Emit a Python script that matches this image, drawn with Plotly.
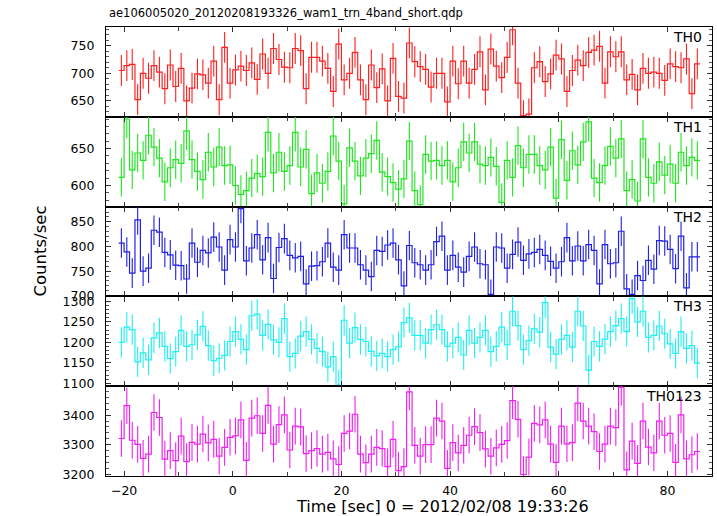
import numpy as np
import plotly.graph_objects as go
from plotly.subplots import make_subplots

# ---- data (1-s bins, centres from -20.5 to 85.5 s) ----
bin_start = -21.0
bin_width = 1.0

TH0 = [705, 714, 716, 652, 700, 691, 714, 702, 672, 715,
       676, 709, 650, 673, 699, 697, 682, 722, 652, 747,
       682, 706, 713, 705, 719, 689, 735, 700, 745, 725,
       711, 710, 745, 741, 672, 729, 729, 722, 709, 667,
       753, 688, 700, 738, 688, 652, 715, 674, 708, 650,
       727, 658, 655, 755, 721, 712, 707, 675, 700, 700,
       648, 722, 681, 722, 682, 707, 739, 670, 744, 713,
       692, 729, 779, 682, 623, 626, 710, 721, 685, 699,
       733, 726, 667, 705, 724, 714, 738, 742, 749, 682,
       739, 730, 739, 688, 698, 670, 709, 700, 702, 700,
       687, 717, 712, 710, 726, 663, 717]

TH1 = [611, 690, 621, 644, 634, 668, 652, 637, 605, 624,
       635, 630, 674, 635, 619, 608, 645, 625, 652, 627,
       628, 600, 588, 593, 610, 616, 612, 672, 617, 645,
       619, 627, 672, 625, 649, 589, 617, 603, 619, 667,
       633, 575, 651, 633, 613, 637, 643, 661, 618, 612,
       604, 595, 609, 660, 593, 574, 642, 633, 634, 627,
       634, 605, 624, 659, 644, 659, 629, 627, 638, 626,
       577, 634, 611, 654, 624, 642, 642, 627, 621, 652,
       583, 662, 607, 647, 628, 659, 686, 610, 604, 627,
       653, 637, 663, 593, 608, 579, 663, 611, 603, 632,
       614, 629, 603, 645, 627, 638, 634]

TH2 = [807, 789, 746, 854, 750, 756, 833, 829, 788, 783,
       762, 761, 734, 807, 768, 792, 787, 819, 799, 752,
       814, 799, 877, 771, 797, 824, 773, 818, 735, 798,
       816, 782, 777, 780, 724, 760, 761, 769, 807, 758,
       752, 824, 797, 797, 763, 752, 739, 792, 790, 803,
       807, 773, 720, 802, 767, 763, 752, 763, 810, 821,
       752, 782, 758, 748, 780, 799, 765, 763, 703, 799,
       797, 756, 784, 809, 772, 785, 788, 794, 782, 770,
       756, 769, 818, 771, 801, 771, 804, 792, 724, 804,
       765, 767, 831, 714, 703, 741, 731, 772, 754, 812,
       811, 794, 755, 821, 716, 779, 779]

TH3 = [1200, 1237, 1231, 1152, 1174, 1157, 1211, 1223, 1190, 1160,
       1177, 1229, 1190, 1194, 1218, 1239, 1192, 1155, 1161, 1168,
       1202, 1226, 1207, 1182, 1265, 1269, 1217, 1244, 1206, 1200,
       1258, 1165, 1173, 1215, 1226, 1207, 1185, 1177, 1140, 1165,
       1095, 1254, 1198, 1236, 1207, 1202, 1178, 1167, 1173, 1165,
       1182, 1189, 1248, 1260, 1217, 1217, 1198, 1231, 1243, 1231,
       1190, 1198, 1212, 1169, 1229, 1198, 1212, 1229, 1177, 1190,
       1237, 1194, 1276, 1241, 1182, 1204, 1233, 1225, 1297, 1188,
       1171, 1207, 1217, 1188, 1276, 1240, 1132, 1202, 1190, 1208,
       1226, 1241, 1258, 1226, 1307, 1250, 1276, 1212, 1217, 1240,
       1221, 1196, 1173, 1226, 1185, 1192, 1149]

TH0123 = [3321, 3432, 3315, 3301, 3254, 3268, 3409, 3392, 3251, 3280,
          3246, 3329, 3243, 3308, 3302, 3336, 3306, 3318, 3261, 3291,
          3325, 3330, 3384, 3247, 3390, 3398, 3338, 3433, 3302, 3368,
          3401, 3282, 3363, 3360, 3270, 3280, 3287, 3268, 3274, 3252,
          3233, 3338, 3346, 3403, 3268, 3239, 3268, 3291, 3287, 3226,
          3318, 3212, 3226, 3479, 3298, 3261, 3300, 3300, 3390, 3380,
          3220, 3307, 3272, 3298, 3332, 3361, 3341, 3286, 3261, 3289,
          3301, 3314, 3449, 3386, 3199, 3258, 3372, 3367, 3384, 3302,
          3240, 3363, 3303, 3307, 3441, 3380, 3363, 3344, 3277, 3302,
          3363, 3358, 3495, 3215, 3312, 3237, 3380, 3292, 3272, 3380,
          3332, 3338, 3240, 3401, 3252, 3266, 3277]

panel_names = ["TH0", "TH1", "TH2", "TH3", "TH0123"]
panel_errors = [28, 26, 30, 37, 62]
panel_ranges = [[621, 784], [571.4, 693], [698.7, 881], [1092.6, 1312.4], [3194, 3498]]
panel_major = [50, 50, 50, 50, 100]
panel_minor = [10, 10, 10, 10, 20]
colors = ["#ff2020", "#20e620", "#2020e6", "#20f0f0", "#f020f0"]

series = [TH0, TH1, TH2, TH3, TH0123]

FONT = "DejaVu Sans, Liberation Sans, sans-serif"

fig = make_subplots(rows=5, cols=1, shared_xaxes=True, vertical_spacing=0)

for i, vals in enumerate(series):
    v = np.array(vals, dtype=float)
    n = len(v)
    edges = bin_start + bin_width * np.arange(n + 1)
    centers = edges[:-1] + bin_width / 2
    step_y = np.append(v, v[-1])
    fig.add_trace(go.Scatter(x=edges, y=step_y, mode="lines", line_shape="hv",
                             line=dict(color=colors[i], width=1.2),
                             hoverinfo="skip", showlegend=False), row=i + 1, col=1)
    fig.add_trace(go.Scatter(x=centers, y=v, mode="markers",
                             marker=dict(size=0.1, color=colors[i]),
                             error_y=dict(type="constant", value=panel_errors[i],
                                          color=colors[i], thickness=1.1, width=0),
                             showlegend=False), row=i + 1, col=1)
    fig.update_yaxes(row=i + 1, col=1, range=panel_ranges[i], dtick=panel_major[i],
                     tick0=0, ticks="inside", ticklen=5, tickwidth=1, tickcolor="#333",
                     minor=dict(dtick=panel_minor[i], ticks="inside", ticklen=3,
                                tickcolor="#555", showgrid=False),
                     showgrid=False, zeroline=False, showline=True, linecolor="black",
                     linewidth=1.2, mirror="allticks",
                     tickfont=dict(family=FONT, size=12.5, color="black"),
                     ticklabelstandoff=8)
    fig.add_annotation(text=panel_names[i], xref="x domain", yref="y domain",
                       x=1, y=1, xanchor="right", yanchor="top", xshift=-8, yshift=0,
                       showarrow=False, font=dict(family=FONT, size=14, color="black"),
                       row=i + 1, col=1)

fig.update_xaxes(range=[-23.33, 88.2], dtick=20, tick0=0, ticks="inside", ticklen=5,
                 tickcolor="#333", minor=dict(dtick=10, ticks="inside", ticklen=4, tickcolor="#444"),
                 showgrid=False, zeroline=False, showline=True, linecolor="black",
                 linewidth=1.2, mirror="allticks",
                 tickfont=dict(family=FONT, size=12.5, color="black"),
                 ticklabelstandoff=3)

fig.add_annotation(text="Time [sec] 0 = 2012/02/08 19:33:26",
                   xref="paper", yref="paper", x=(442 - 106) / 606, y=0,
                   xanchor="center", yanchor="middle", yshift=-30, showarrow=False,
                   font=dict(family=FONT, size=16, color="black"))
fig.add_annotation(text="ae106005020_20120208193326_wam1_trn_4band_short.qdp",
                   xref="paper", yref="paper", x=0, y=1, xanchor="left", yanchor="bottom",
                   xshift=1, yshift=5, showarrow=False,
                   font=dict(family=FONT, size=11.5, color="black"))
fig.add_annotation(text="Counts/sec", xref="paper", yref="paper", x=0, y=0.5,
                   xanchor="center", yanchor="middle", xshift=-66, textangle=-90,
                   showarrow=False, font=dict(family=FONT, size=16.5, color="black"))

fig.update_layout(width=717, height=516, margin=dict(l=106, r=5, t=27, b=40),
                  plot_bgcolor="white", paper_bgcolor="white",
                  font=dict(family=FONT, color="black"))

fig.write_html("out.html", config={"displayModeBar": False},
               post_script="document.body.style.margin='0';document.body.style.overflow='hidden';")
